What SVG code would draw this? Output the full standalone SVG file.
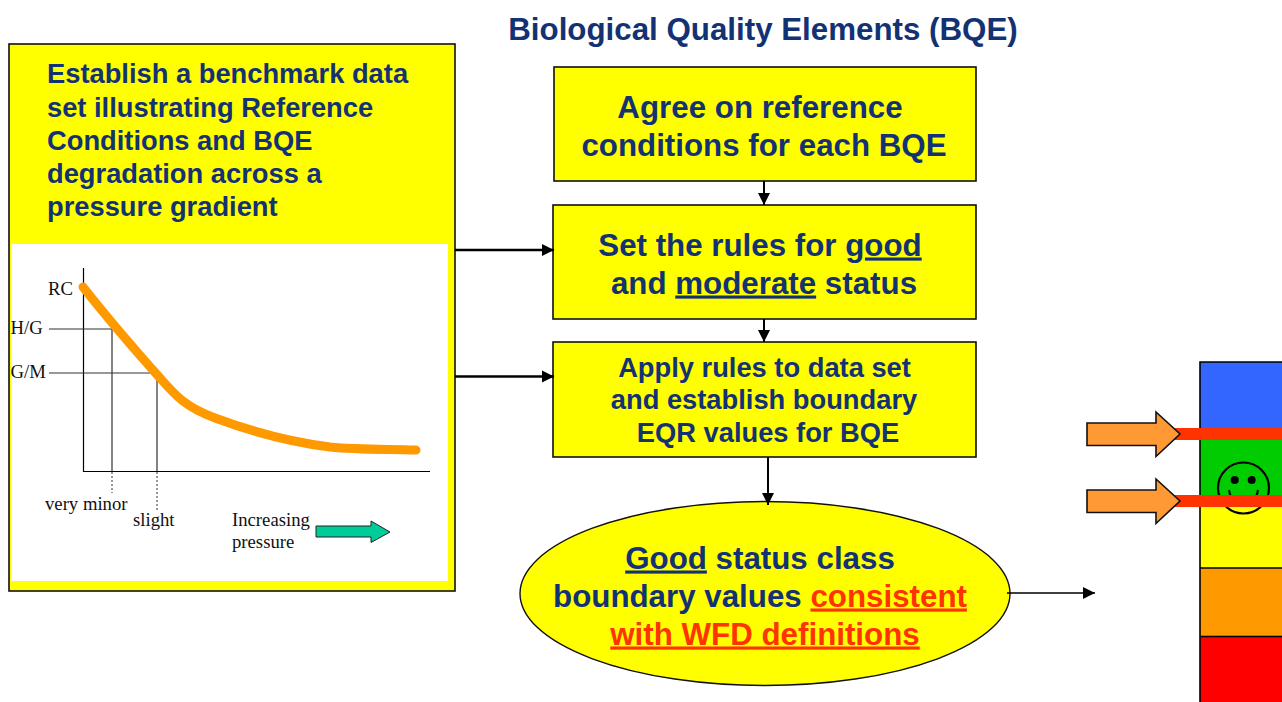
<svg xmlns="http://www.w3.org/2000/svg" width="1282" height="702" viewBox="0 0 1282 702">
<style>
.b{font-family:"Liberation Sans",Arial,sans-serif;font-weight:700;fill:#133273}
.c{text-anchor:middle}
.s{font-family:"Liberation Serif","Times New Roman",serif;font-size:18.7px;fill:#111}
.u{text-decoration:underline;text-decoration-thickness:3px}
.r{fill:#ff3300}
.box{fill:#ffff00;stroke:#111;stroke-width:1.6}
.ln{stroke:#000;stroke-width:2;fill:none}
.th{stroke:#333;stroke-width:1.2;fill:none}
.ar{fill:#ff9933;stroke:#111;stroke-width:1.6}
.band{fill:#ff3300}
</style>
<defs>
<marker id="ah" markerUnits="userSpaceOnUse" markerWidth="13" markerHeight="13" refX="12" refY="6.500" orient="auto"><path d="M0,0.500 L12,6.500 L0,12.500 Z" fill="#000"/></marker>
</defs>
<text id="title" class="b c" x="763" y="39.500" font-size="31.3">Biological Quality Elements (BQE)</text>

<g id="benchmark">
<rect class="box" x="9" y="44" width="446" height="547"/>
<text class="b" font-size="27.3" x="47" y="82.500">Establish a benchmark data</text>
<text class="b" font-size="27.3" x="47" y="116.500">set illustrating Reference</text>
<text class="b" font-size="27.3" x="47" y="149.500">Conditions and BQE</text>
<text class="b" font-size="27.3" x="47" y="182.500">degradation across a</text>
<text class="b" font-size="27.3" x="47" y="215.500">pressure gradient</text>
<rect x="11" y="244" width="437" height="337" fill="#fff"/>
</g>
<g id="chart">
<path class="ln" style="stroke-width:1.2" d="M83.500,268V471.500H430"/>
<path class="th" d="M49,329H112V471M49,373H157V471"/>
<path d="M112,472V493M157,472V510" stroke="#333" stroke-width="1" stroke-dasharray="2 2" fill="none"/>
<path d="M83,287C105,315 135,350 160,378C175,395 185,407 215,418C250,431 290,442 330,447C360,450 390,449 416,450" fill="none" stroke="#ff9900" stroke-width="9" stroke-linecap="round"/>
<text class="s" x="48" y="295">RC</text>
<text class="s" x="10.500" y="334">H/G</text>
<text class="s" x="10.500" y="378">G/M</text>
<text class="s" x="45" y="509.500">very minor</text>
<text class="s" x="133" y="525.500">slight</text>
<text class="s" x="232" y="525.500">Increasing</text>
<text class="s" x="232" y="547.500">pressure</text>
<path d="M316,526H371V521L390,532L371,542.500V537H316Z" fill="#00cc99" stroke="#222" stroke-width="1"/>
</g>

<g id="agree">
<rect class="box" x="554" y="67" width="422" height="114"/>
<text class="b c" font-size="31.3" x="760" y="117.500">Agree on reference</text>
<text class="b c" font-size="31.3" x="764" y="155.500">conditions for each BQE</text>
</g>
<g id="rules">
<rect class="box" x="553" y="205" width="423" height="114"/>
<text class="b c" font-size="31.3" x="760" y="255.500">Set the rules for <tspan class="u">good</tspan></text>
<text class="b c" font-size="31.3" x="764" y="293.500">and <tspan class="u">moderate</tspan> status</text>
</g>
<g id="apply">
<rect class="box" x="553" y="342" width="423" height="115"/>
<text class="b c" font-size="27.3" x="764.500" y="377">Apply rules to data set</text>
<text class="b c" font-size="27.3" x="764" y="409">and establish boundary</text>
<text class="b c" font-size="27.3" x="768" y="442">EQR values for BQE</text>
</g>
<g id="good">
<ellipse cx="765" cy="593.500" rx="245" ry="92" fill="#ffff00" stroke="#111" stroke-width="1.4"/>
<text class="b c" font-size="31.3" x="760" y="568.500"><tspan class="u">Good</tspan> status class</text>
<text class="b c" font-size="31.3" x="760" y="606.500">boundary values <tspan class="u r">consistent</tspan></text>
<text class="b c r u" font-size="31.3" x="765" y="644.500">with WFD definitions</text>
</g>

<g id="connectors">
<path class="ln" marker-end="url(#ah)" d="M764,181V205"/>
<path class="ln" marker-end="url(#ah)" d="M764,319V342"/>
<path class="ln" marker-end="url(#ah)" d="M768,457V505"/>
<path class="ln" style="stroke-width:2.600" marker-end="url(#ah)" d="M455,250H554"/>
<path class="ln" style="stroke-width:2.600" marker-end="url(#ah)" d="M455,376.500H554"/>
<path class="ln" style="stroke-width:1.5" marker-end="url(#ah)" d="M1007,593H1095"/>
</g>

<g id="scale">
<rect x="1200" y="362" width="82" height="72" fill="#3366ff"/>
<rect x="1200" y="434" width="82" height="67" fill="#00cc00"/>
<rect x="1200" y="501" width="82" height="67" fill="#ffff00"/>
<rect x="1200" y="568" width="82" height="68" fill="#ff9900"/>
<rect x="1200" y="636" width="82" height="66" fill="#ff0000"/>
<path d="M1282,362H1200V702M1200,568H1282M1200,636.500H1282" fill="none" stroke="#000" stroke-width="1.600"/>
<g id="smiley">
<circle cx="1243.500" cy="488" r="25.500" fill="none" stroke="#000" stroke-width="2.200"/>
<circle cx="1234.700" cy="480" r="4"/>
<circle cx="1251.700" cy="480" r="4"/>
<path d="M1229,490C1232,510 1255,510 1258,490" fill="none" stroke="#000" stroke-width="2"/>
</g>
<rect class="band" x="1175" y="428" width="107" height="12"/>
<rect class="band" x="1175" y="495" width="107" height="12"/>
</g>
<g id="marker-top"><path class="ar" d="M1087,423H1156V412L1180,434L1156,456.500V445.500H1087Z"/></g>
<g id="marker-bottom"><path class="ar" d="M1087,490H1156V479L1180,501L1156,523.500V512.500H1087Z"/></g>
</svg>
